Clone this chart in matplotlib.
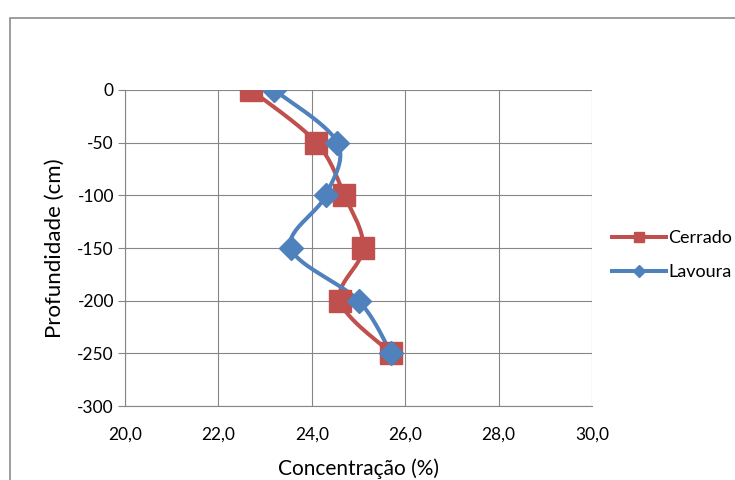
import matplotlib.pyplot as plt
import numpy as np
from matplotlib.lines import Line2D
from matplotlib.patches import Rectangle

plt.rcParams['font.family'] = ['Lato', 'DejaVu Sans']
plt.rcParams['axes.unicode_minus'] = False

# Depth (cm) and concentration (%) for each soil use
profundidade = [0, -50, -100, -150, -200, -250]
cerrado = [22.7, 24.1, 24.7, 25.1, 24.6, 25.7]
lavoura = [23.2, 24.55, 24.3, 23.55, 25.0, 25.7]

x_ticks = [20, 22, 24, 26, 28, 30]
y_ticks = [0, -50, -100, -150, -200, -250, -300]

red = '#C0504D'
blue = '#4F81BD'
grid_col = '#868686'

fig = plt.figure(figsize=(7.35, 4.8), dpi=100)
ax = fig.add_axes([125 / 735, 1 - 406 / 480, 467 / 735, 316 / 480])
ax.set_xlim(20, 30)
ax.set_ylim(-300, 0)


def smooth(ax, xs, ys, n=30):
    # Excel-style smoothed line: cubic Bezier segments built in screen space
    pts = ax.transData.transform(np.column_stack([xs, ys]))
    p = np.vstack([pts[0], pts, pts[-1]])
    out = []
    for i in range(1, len(p) - 2):
        p0, p1, p2, p3 = p[i - 1], p[i], p[i + 1], p[i + 2]
        c1 = p1 + (p2 - p0) / 6
        c2 = p2 - (p3 - p1) / 6
        t = np.linspace(0, 1, n)[:, None]
        seg = ((1 - t) ** 3) * p1 + 3 * ((1 - t) ** 2) * t * c1 + 3 * (1 - t) * t ** 2 * c2 + t ** 3 * p2
        out.append(seg if i == 1 else seg[1:])
    out = np.vstack(out)
    return ax.transData.inverted().transform(out).T


for vals, col, mk, ms in [(cerrado, red, 's', 15.5), (lavoura, blue, 'D', 12)]:
    sx, sy = smooth(ax, vals, profundidade)
    ax.plot(sx, sy, color=col, lw=2.9, solid_capstyle='round', zorder=3)
    ax.plot(vals, profundidade, ls='none', marker=mk, ms=ms, color=col, zorder=4)

ax.set_xticks(x_ticks)
ax.set_yticks(y_ticks)
ax.set_xticklabels([f'{v:.1f}'.replace('.', ',') for v in x_ticks])
ax.grid(True, color=grid_col, lw=0.8)
ax.set_axisbelow(True)
for s in ['top', 'right']:
    ax.spines[s].set_visible(False)
for s in ['left', 'bottom']:
    ax.spines[s].set_color(grid_col)
ax.tick_params(axis='y', length=5, color=grid_col, labelsize=12.5, pad=3)
ax.tick_params(axis='x', length=0, labelsize=12.5, pad=15)

ax.set_xlabel('Concentração (%)', fontsize=15, labelpad=11)
ax.set_ylabel('Profundidade (cm)', fontsize=16, labelpad=9)

handles = [
    Line2D([], [], color=red, lw=2.9, marker='s', ms=7),
    Line2D([], [], color=blue, lw=2.9, marker='D', ms=6),
]
fig.legend(handles, ['Cerrado', 'Lavoura'], loc='center left',
           bbox_to_anchor=(596 / 735, 1 - 255 / 480), frameon=False,
           fontsize=13, handlelength=3.0, handletextpad=0.1, labelspacing=1.0)

# Chart area border
fig.patches.append(Rectangle((10 / 735, -0.1), 1.2, 1 - 18 / 480 + 0.1,
                             transform=fig.transFigure, fill=False,
                             edgecolor='#8c8c8c', lw=1.2))

fig.savefig('out.png', dpi=100)
